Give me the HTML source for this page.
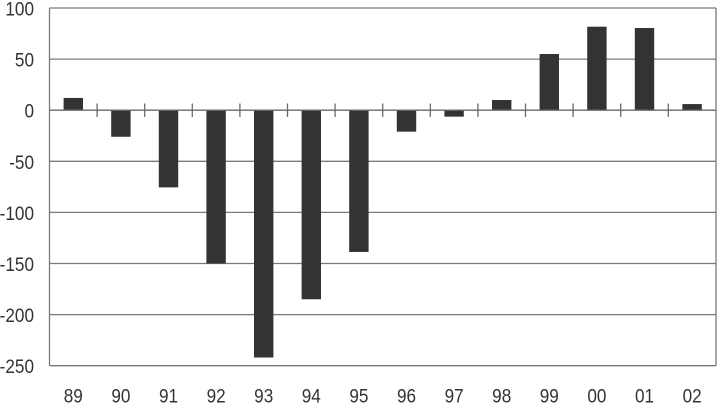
<!DOCTYPE html>
<html><head><meta charset="utf-8"><style>
html,body{margin:0;padding:0;background:#fff;}
svg{display:block;}
text{font-family:"Liberation Sans",sans-serif;font-size:19.5px;fill:#333;}
</style></head><body>
<svg width="718" height="405" viewBox="0 0 718 405" xmlns="http://www.w3.org/2000/svg">
<g stroke="#7a7a7a" stroke-width="1.3" fill="none">
<line x1="49.5" y1="8" x2="716" y2="8"/>
<line x1="49.5" y1="59.1" x2="716" y2="59.1"/>
<line x1="49.5" y1="161.3" x2="716" y2="161.3"/>
<line x1="49.5" y1="212.4" x2="716" y2="212.4"/>
<line x1="49.5" y1="263.5" x2="716" y2="263.5"/>
<line x1="49.5" y1="314.6" x2="716" y2="314.6"/>
<line x1="49.5" y1="365.7" x2="716" y2="365.7"/>
<line x1="49.5" y1="8" x2="49.5" y2="365.7"/>
<line x1="716" y1="8" x2="716" y2="365.7"/>
</g>
<g fill="#333">
<rect x="63.6" y="97.94" width="19.4" height="12.26"/>
<rect x="111.2" y="110.2" width="19.4" height="26.57"/>
<rect x="158.8" y="110.2" width="19.4" height="77.16"/>
<rect x="206.4" y="110.2" width="19.4" height="153.3"/>
<rect x="254.0" y="110.2" width="19.4" height="247.3"/>
<rect x="301.6" y="110.2" width="19.4" height="189.07"/>
<rect x="349.2" y="110.2" width="19.4" height="141.75"/>
<rect x="396.8" y="110.2" width="19.4" height="21.46"/>
<rect x="444.4" y="110.2" width="19.4" height="6.44"/>
<rect x="492.0" y="99.98" width="19.4" height="10.22"/>
<rect x="539.6" y="53.99" width="19.4" height="56.21"/>
<rect x="587.2" y="26.7" width="19.4" height="83.5"/>
<rect x="634.8" y="28.03" width="19.4" height="82.17"/>
<rect x="682.4" y="104.07" width="19.4" height="6.13"/>
</g>
<g stroke="#6a6a6a" stroke-width="1.3">
<line x1="49.5" y1="110.2" x2="716" y2="110.2"/>
<line x1="97.1" y1="103.5" x2="97.1" y2="117"/>
<line x1="144.7" y1="103.5" x2="144.7" y2="117"/>
<line x1="192.3" y1="103.5" x2="192.3" y2="117"/>
<line x1="239.9" y1="103.5" x2="239.9" y2="117"/>
<line x1="287.5" y1="103.5" x2="287.5" y2="117"/>
<line x1="335.1" y1="103.5" x2="335.1" y2="117"/>
<line x1="382.7" y1="103.5" x2="382.7" y2="117"/>
<line x1="430.3" y1="103.5" x2="430.3" y2="117"/>
<line x1="477.9" y1="103.5" x2="477.9" y2="117"/>
<line x1="525.5" y1="103.5" x2="525.5" y2="117"/>
<line x1="573.1" y1="103.5" x2="573.1" y2="117"/>
<line x1="620.7" y1="103.5" x2="620.7" y2="117"/>
<line x1="668.3" y1="103.5" x2="668.3" y2="117"/>
</g>
<g text-anchor="end">
<g transform="translate(34,15.5) scale(0.88,1)"><text x="0" y="0">100</text></g>
<g transform="translate(34,66.6) scale(0.88,1)"><text x="0" y="0">50</text></g>
<g transform="translate(34,117.7) scale(0.88,1)"><text x="0" y="0">0</text></g>
<g transform="translate(34,168.8) scale(0.88,1)"><text x="0" y="0">-50</text></g>
<g transform="translate(34,219.9) scale(0.88,1)"><text x="0" y="0">-100</text></g>
<g transform="translate(34,271) scale(0.88,1)"><text x="0" y="0">-150</text></g>
<g transform="translate(34,322.1) scale(0.88,1)"><text x="0" y="0">-200</text></g>
<g transform="translate(34,373.2) scale(0.88,1)"><text x="0" y="0">-250</text></g>
</g>
<g text-anchor="middle">
<g transform="translate(73.3,402.7) scale(0.88,1)"><text x="0" y="0">89</text></g>
<g transform="translate(120.9,402.7) scale(0.88,1)"><text x="0" y="0">90</text></g>
<g transform="translate(168.5,402.7) scale(0.88,1)"><text x="0" y="0">91</text></g>
<g transform="translate(216.1,402.7) scale(0.88,1)"><text x="0" y="0">92</text></g>
<g transform="translate(263.7,402.7) scale(0.88,1)"><text x="0" y="0">93</text></g>
<g transform="translate(311.3,402.7) scale(0.88,1)"><text x="0" y="0">94</text></g>
<g transform="translate(358.9,402.7) scale(0.88,1)"><text x="0" y="0">95</text></g>
<g transform="translate(406.5,402.7) scale(0.88,1)"><text x="0" y="0">96</text></g>
<g transform="translate(454.1,402.7) scale(0.88,1)"><text x="0" y="0">97</text></g>
<g transform="translate(501.7,402.7) scale(0.88,1)"><text x="0" y="0">98</text></g>
<g transform="translate(549.3,402.7) scale(0.88,1)"><text x="0" y="0">99</text></g>
<g transform="translate(596.9,402.7) scale(0.88,1)"><text x="0" y="0">00</text></g>
<g transform="translate(644.5,402.7) scale(0.88,1)"><text x="0" y="0">01</text></g>
<g transform="translate(692.1,402.7) scale(0.88,1)"><text x="0" y="0">02</text></g>
</g>
</svg>
</body></html>
